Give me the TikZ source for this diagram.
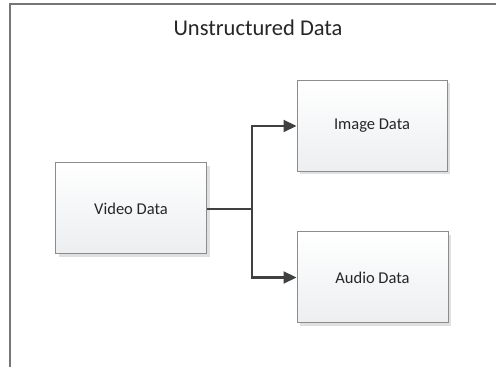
\documentclass[tikz,border=0pt]{standalone}
\usepackage{fontspec}
\setmainfont{Carlito}
\usetikzlibrary{arrows.meta,shadows}
\definecolor{framegray}{HTML}{767676}
\definecolor{boxline}{HTML}{8C8C8C}
\definecolor{boxbottom}{HTML}{ECEEF0}
\definecolor{linkgray}{HTML}{404040}
\definecolor{textgray}{HTML}{262626}
\tikzset{
  x=1pt, y=1pt,
  databox/.style={draw=boxline, line width=1pt, top color=white, bottom color=boxbottom,
    minimum width=151pt, minimum height=91pt, inner sep=0pt,
    font=\fontsize{16.5}{19}\selectfont, text=textgray,
    drop shadow={shadow xshift=3pt, shadow yshift=-3pt, fill=black!12, opacity=1}},
  link/.style={draw=linkgray, line width=2.2pt, -{Triangle[length=13pt,width=12pt]}},
  framestroke/.style={draw=framegray, line width=2pt}
}
\begin{document}
\begin{tikzpicture}
  \useasboundingbox (0,0) rectangle (496,367);
  \fill[white] (0,0) rectangle (496,367);
  % open frame: top and left edges
  \coordinate (fTL) at (10,362.5);
  \coordinate (fTR) at (496,362.5);
  \coordinate (fBL) at (10,0);
  \draw[framestroke] (fTR) -- (fTL) -- (fBL);
  % title
  \node[font=\fontsize{22.5}{26}\selectfont, text=textgray] (title) at (258,339) {Unstructured Data};
  % boxes
  \node[databox] (video) at (131,158.5) {Video Data};
  \node[databox, minimum width=150pt] (image) at (372,241) {Image Data};
  \node[databox] (audio) at (372.5,89.5) {Audio Data};
  % connectors
  \coordinate (split) at (252,158);
  \draw[linkgray, line width=2.2pt] (video.east |- split) -- (split);
  \draw[link] (split) |- (image.west);
  \draw[link] (split) |- (audio.west);
\end{tikzpicture}
\end{document}
